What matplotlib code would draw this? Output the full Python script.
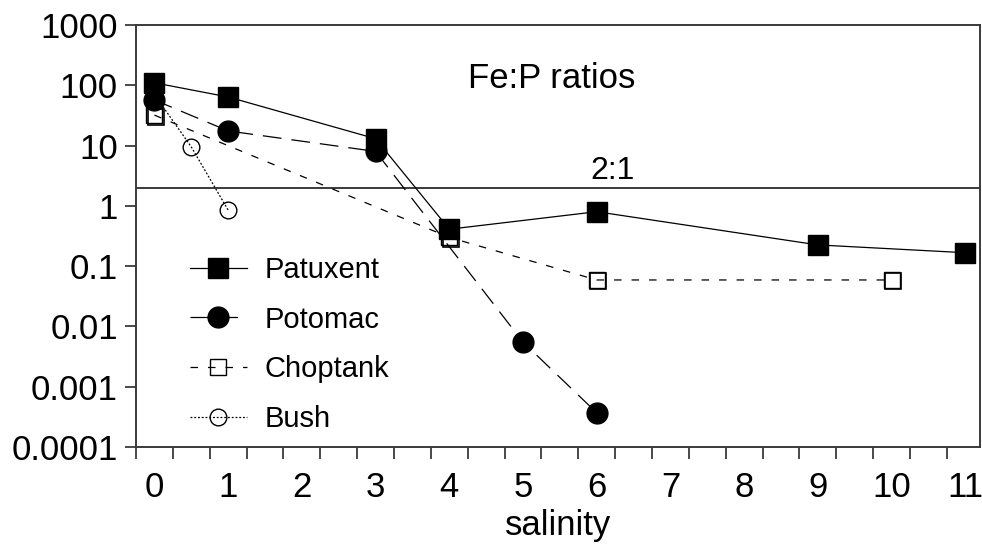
import matplotlib
matplotlib.use("Agg")
import matplotlib.pyplot as plt
import matplotlib.transforms as mtransforms
from matplotlib.ticker import FixedLocator, NullFormatter

plt.rcParams['font.family'] = ['Liberation Sans', 'DejaVu Sans']

# Fe:P ratios along the salinity gradient
pat_x = [0, 1, 3, 4, 6, 9, 11]
pat_y = [110, 64, 13, 0.41, 0.80, 0.225, 0.167]

pot_x = [0, 1, 3, 5, 6]
pot_y = [57, 17.5, 8, 0.0055, 0.00037]

chop_x = [0, 4, 6, 10]
chop_y = [32, 0.30, 0.059, 0.059]

bush_x = [0, 0.5, 1]
bush_y = [70, 9.5, 0.85]

ratio_line = 2
y_ticks = [1000, 100, 10, 1, 0.1, 0.01, 0.001, 0.0001]
y_labels = ['1000', '100', '10', '1', '0.1', '0.01', '0.001', '0.0001']
x_ticks = list(range(12))

fig = plt.figure(figsize=(9.82, 5.46), dpi=100)
ax = fig.add_axes([0.1385, 0.1813, 0.8595, 0.7729])
ax.set_yscale('log')

edge = '#3a3a3a'

ax.plot(bush_x, bush_y, color='k', lw=0.9, dashes=[1.5, 1.5],
        marker='o', ms=12, mfc='none', mec='k', mew=1.0, zorder=3,
        label='Bush')

# offset copy of the open squares gives them a slight drop shadow
shadow = ax.transData + mtransforms.ScaledTranslation(1.5 / 100, -1.5 / 100,
                                                     fig.dpi_scale_trans)
ax.plot(chop_x, chop_y, ls='none', marker='s', ms=12, mfc='none', mec='k',
        mew=1.2, transform=shadow, zorder=3.5)
ax.plot(chop_x, chop_y, color='k', lw=0.9, dashes=[6, 8],
        marker='s', ms=12, mfc='none', mec='k', mew=1.0, zorder=4,
        label='Choptank')

ax.plot(pot_x, pot_y, color='k', lw=0.9, dashes=[15, 8],
        marker='o', ms=15, mfc='k', mec='k', zorder=5, label='Potomac')

ax.plot(pat_x, pat_y, color='k', lw=0.9, marker='s', ms=15,
        mfc='k', mec='k', zorder=6, label='Patuxent')

ax.axhline(ratio_line, color=edge, lw=1.4, zorder=2)
ax.annotate('2:1', xy=(6.22, ratio_line), xytext=(0, 6),
            textcoords='offset points', ha='center', va='baseline', fontsize=23)
ax.text(0.492, 0.851, 'Fe:P ratios', transform=ax.transAxes,
        ha='center', va='baseline', fontsize=25)

ax.set_xlim(-0.25, 11.2)
ax.set_ylim(0.0001, 1000)

ax.yaxis.set_major_locator(FixedLocator(y_ticks))
ax.set_yticklabels(y_labels)
ax.yaxis.set_minor_locator(FixedLocator([]))
ax.yaxis.set_minor_formatter(NullFormatter())

ax.set_xticks(x_ticks)
ax.set_xticklabels([str(v) for v in x_ticks])
ax.xaxis.set_minor_locator(FixedLocator([-0.25 + 0.5 * i for i in range(23)]))

ax.tick_params(axis='y', which='major', direction='out', length=8,
               width=1.3, color=edge, labelsize=25, pad=5)
ax.tick_params(axis='x', which='major', length=0, labelsize=25, pad=17)
ax.tick_params(axis='x', which='minor', direction='out', length=8.5,
               width=1.3, color=edge)

for s in ax.spines.values():
    s.set_color(edge)
    s.set_linewidth(1.4)

ax.set_xlabel('salinity', fontsize=25)
ax.xaxis.set_label_coords(0.5, -0.147)

handles, labels = ax.get_legend_handles_labels()
order = ['Patuxent', 'Potomac', 'Choptank', 'Bush']
hl = {l: h for h, l in zip(handles, labels)}
ax.legend([hl[k] for k in order], order, loc='upper left',
          bbox_to_anchor=(190 / 982, 1 - 256 / 546),
          bbox_transform=fig.transFigure, frameon=False, fontsize=21,
          handlelength=1.95, handletextpad=0.62, labelspacing=0.74,
          borderpad=0, borderaxespad=0)

fig.savefig('out.png', dpi=100)
